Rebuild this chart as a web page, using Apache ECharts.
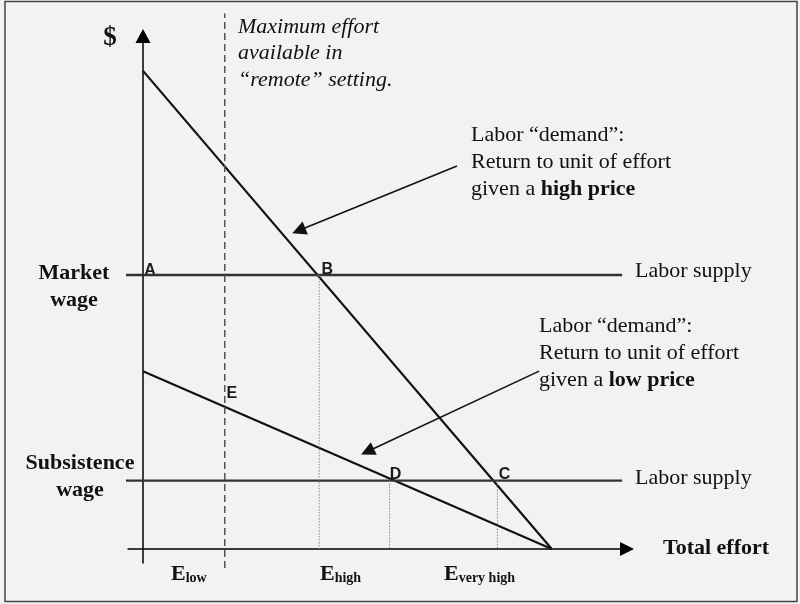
<!DOCTYPE html>
<html>
<head>
<meta charset="utf-8">
<script src="https://cdn.jsdelivr.net/npm/echarts@6/dist/echarts.min.js"></script>
<style>
html,body{margin:0;padding:0;background:#f2f2f2;}
#chart{width:800px;height:604px;}
</style>
</head>
<body>
<div id="chart"></div>
<script>
// ---- data (effort on x, $ on y, arbitrary units) ----
const highDemandX = [0, 100];
const highDemandY = [100, 0];
const lowDemandX = [0, 100];
const lowDemandY = [37.2, 0];
const marketWage = 57.3;
const subsistenceWage = 14.3;
const supplyLineX = [-6.85, 117.2];
const remoteMaxEffort = 20;
const remoteLineY = [-4.0, 112.0];
const effortLevels = [43.1, 60.3, 86.7];
const effortWages = [57.3, 14.3, 14.3];
const pointNames = ['A', 'B', 'E', 'D', 'C'];
const pointX = [0, 43.1, 20, 60.3, 86.7];
const pointY = [57.3, 57.3, 29.8, 14.3, 14.3];
const tickSubscripts = ['low', 'high', 'very high'];
const arrowFrom = [[76.8, 80.1], [96.9, 37.2]];
const arrowTo = [[38.1, 66.6], [54.9, 20.4]];

const SERIF = '"Liberation Serif", "Times New Roman", serif';
const SANS = '"Liberation Sans", Arial, sans-serif';

function pairs(xs, ys) { return xs.map((x, i) => [x, ys[i]]); }

const chart = echarts.init(document.getElementById('chart'));

const labelOffsets = [[7, -4.5], [8, -5], [7, -13], [6, -6], [7, -6]];

const series = [];
series.push({
  type: 'line', name: 'high demand', data: pairs(highDemandX, highDemandY),
  showSymbol: false, clip: false, silent: true,
  lineStyle: { color: '#111', width: 2.2 }
});
series.push({
  type: 'line', name: 'low demand', data: pairs(lowDemandX, lowDemandY),
  showSymbol: false, clip: false, silent: true,
  lineStyle: { color: '#111', width: 2.2 }
});
[marketWage, subsistenceWage].forEach((w, i) => {
  series.push({
    type: 'line', name: 'supply' + i, data: supplyLineX.map(x => [x, w]),
    showSymbol: false, clip: false, silent: true,
    lineStyle: { color: '#333', width: 2.4 }
  });
});
series.push({
  type: 'line', name: 'remote max', data: remoteLineY.map(y => [remoteMaxEffort, y]),
  showSymbol: false, clip: false, silent: true,
  lineStyle: { color: '#555', width: 1.5, type: [7, 4] }
});
effortLevels.forEach((e, i) => {
  series.push({
    type: 'line', name: 'drop' + i, data: [[e, effortWages[i]], [e, 0]],
    showSymbol: false, clip: false, silent: true,
    lineStyle: { color: '#888', width: 1, type: [1.5, 1.5] }
  });
});
series.push({
  type: 'lines', coordinateSystem: 'cartesian2d', silent: true,
  symbol: ['none', 'triangle'], symbolSize: [12, 14],
  lineStyle: { color: '#111', width: 1.6, opacity: 1 },
  data: arrowFrom.map((f, i) => ({ coords: [f, arrowTo[i]] }))
});
series.push({
  type: 'scatter', name: 'points', symbolSize: 1, silent: true, clip: false,
  itemStyle: { opacity: 1, color: 'rgba(0,0,0,0)' },
  emphasis: { disabled: true },
  data: pointNames.map((n, i) => ({
    value: [pointX[i], pointY[i]], name: n,
    label: { offset: labelOffsets[i] }
  })),
  label: {
    show: true, position: 'inside', formatter: p => p.name,
    fontFamily: SANS, fontWeight: 'bold', fontSize: 16, color: '#1a1a1a', opacity: 1
  }
});

function txt(text, x, y, opts) {
  return {
    type: 'text', x: x, y: y, silent: true,
    style: Object.assign({
      text: text, fontFamily: SERIF, fontSize: 22, fill: '#111',
      textAlign: 'left', textVerticalAlign: 'middle'
    }, opts || {})
  };
}
const boldRich = { b: { fontFamily: SERIF, fontSize: 22, fontWeight: 'bold', fill: '#111' } };
const eRich = {
  e: { fontFamily: SERIF, fontSize: 22, fontWeight: 'bold', fill: '#111', verticalAlign: 'bottom' },
  s: { fontFamily: SERIF, fontSize: 14, fontWeight: 'bold', fill: '#111', verticalAlign: 'bottom' }
};
const eLeft = [171, 320, 444];

const graphic = [
  { type: 'rect', shape: { x: 5, y: 1.5, width: 792, height: 600 }, silent: true,
    style: { fill: 'none', stroke: '#444', lineWidth: 1.5 }, z: -1 },
  txt('$', 110, 38, { fontSize: 27, fontWeight: 'bold', textAlign: 'center' }),
  txt('Maximum effort', 238, 27, { fontStyle: 'italic' }),
  txt('available in', 238, 53, { fontStyle: 'italic' }),
  txt('\u201cremote\u201d setting.', 238, 80, { fontStyle: 'italic' }),
  txt('Labor \u201cdemand\u201d:', 471, 135),
  txt('Return to unit of effort', 471, 162),
  txt('given a {b|high price}', 471, 189, { rich: boldRich }),
  txt('Labor \u201cdemand\u201d:', 539, 326),
  txt('Return to unit of effort', 539, 353),
  txt('given a {b|low price}', 539, 380, { rich: boldRich }),
  txt('Labor supply', 635, 271),
  txt('Labor supply', 635, 478),
  txt('Market', 74, 273, { fontWeight: 'bold', textAlign: 'center' }),
  txt('wage', 74, 300, { fontWeight: 'bold', textAlign: 'center' }),
  txt('Subsistence', 80, 463, { fontWeight: 'bold', textAlign: 'center' }),
  txt('wage', 80, 490, { fontWeight: 'bold', textAlign: 'center' }),
  txt('Total effort', 663, 548, { fontWeight: 'bold' })
];
tickSubscripts.forEach((s, i) => {
  graphic.push(txt('{e|E}{s|' + s + '}', eLeft[i], 574, { rich: eRich }));
});

chart.setOption({
  backgroundColor: '#f2f2f2',
  animation: false,
  grid: { left: 128, right: 173, top: 36, bottom: 41 },
  xAxis: {
    type: 'value', min: -3.67, max: 118.4,
    axisLine: { show: true, onZero: true, symbol: ['none', 'triangle'], symbolSize: [14, 14],
      lineStyle: { color: '#000', width: 1.5 } },
    axisTick: { show: false }, axisLabel: { show: false }, splitLine: { show: false }
  },
  yAxis: {
    type: 'value', min: -2.93, max: 107.3,
    axisLine: { show: true, onZero: true, symbol: ['none', 'triangle'], symbolSize: [15, 14],
      lineStyle: { color: '#000', width: 1.5 } },
    axisTick: { show: false }, axisLabel: { show: false }, splitLine: { show: false }
  },
  graphic: graphic,
  series: series
});
</script>
</body>
</html>
